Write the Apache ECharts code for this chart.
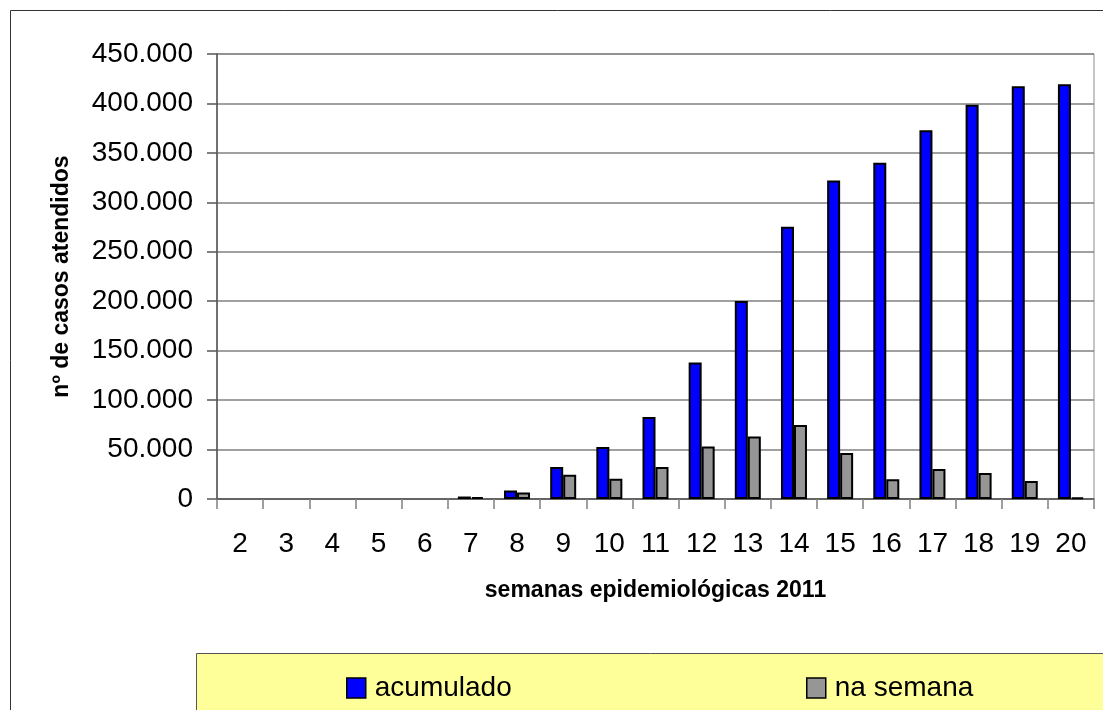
<!DOCTYPE html>
<html>
<head>
<meta charset="utf-8">
<script src="https://cdn.jsdelivr.net/npm/echarts@6/dist/echarts.min.js"></script>
<style>
html,body{margin:0;padding:0;background:#fff;}
#chart{width:1103px;height:710px;}
</style>
</head>
<body>
<div id="chart"></div>
<script>
var categories = ['2','3','4','5','6','7','8','9','10','11','12','13','14','15','16','17','18','19','20'];
var acumulado = [0,0,0,0,0,2500,8500,32400,52600,83000,138000,200300,275200,322200,340000,372800,398700,417300,419300];
var naSemana = [0,0,0,0,0,2000,6500,24500,20400,32400,53000,63100,74900,46500,20000,30400,26300,18200,1500];
var yTicks = { min: 0, max: 450000, interval: 50000 };
var seriesNames = ['acumulado', 'na semana'];
var xTitle = 'semanas epidemiológicas 2011';
var yTitle = 'nº de casos atendidos';

function fmt(v){
  var s = String(Math.round(v));
  return s.replace(/\B(?=(\d{3})+(?!\d))/g, '.');
}
// zero values are drawn as empty (no visible bar), as in the reference
function toBars(arr){ return arr.map(function(v){ return v === 0 ? '-' : v; }); }

var FONT = "'Liberation Sans', Arial, sans-serif";
var chart = echarts.init(document.getElementById('chart'), null, {renderer:'canvas'});
chart.setOption({
  animation: false,
  backgroundColor: '#ffffff',
  textStyle: { fontFamily: FONT },
  graphic: [
    { type: 'rect', z: -10, shape: { x: 10.5, y: 10.5, width: 1200, height: 800 },
      style: { fill: '#ffffff', stroke: '#333333', lineWidth: 1 } },
    { type: 'rect', z: -5, shape: { x: 196.5, y: 653.5, width: 1000, height: 100 },
      style: { fill: '#FFFF99', stroke: '#555555', lineWidth: 1 } }
  ],
  grid: {
    left: 217, top: 54, right: 9, bottom: 211,
    containLabel: false, outerBoundsMode: 'none',
    show: true, borderColor: '#8c8c8c', borderWidth: 1, backgroundColor: 'transparent'
  },
  legend: [
    { data: [seriesNames[0]], left: 341, top: 669, icon: 'rect', itemWidth: 19, itemHeight: 20, itemGap: 0,
      textStyle: { fontFamily: FONT, fontSize: 28, color: '#000', padding: [0,0,0,4] },
      itemStyle: { borderColor: '#000', borderWidth: 1.5 } },
    { data: [seriesNames[1]], left: 801, top: 669, icon: 'rect', itemWidth: 19, itemHeight: 20, itemGap: 0,
      textStyle: { fontFamily: FONT, fontSize: 28, color: '#000', padding: [0,0,0,4] },
      itemStyle: { borderColor: '#000', borderWidth: 1.5 } }
  ],
  xAxis: {
    type: 'category',
    data: categories,
    name: xTitle,
    nameLocation: 'middle',
    nameGap: 80,
    nameTextStyle: { fontFamily: FONT, fontSize: 23, fontWeight: 'bold', color: '#000' },
    axisLine: { show: true, lineStyle: { color: '#555555', width: 1.5 } },
    axisTick: { show: true, inside: false, length: 10, alignWithLabel: false, lineStyle: { color: '#808080', width: 1.5 } },
    axisLabel: { fontFamily: FONT, fontSize: 28, color: '#000', margin: 31, interval: 0 },
    splitLine: { show: false }
  },
  yAxis: {
    type: 'value',
    min: yTicks.min, max: yTicks.max, interval: yTicks.interval,
    name: yTitle,
    nameLocation: 'middle',
    nameRotate: 90,
    nameGap: 144,
    nameTextStyle: { fontFamily: FONT, fontSize: 23, fontWeight: 'bold', color: '#000' },
    axisLine: { show: true, lineStyle: { color: '#555555', width: 1.5 } },
    axisTick: { show: true, inside: false, length: 10, lineStyle: { color: '#555555', width: 1.5 } },
    axisLabel: { fontFamily: FONT, fontSize: 28, color: '#000', margin: 24, formatter: fmt },
    splitLine: { show: true, lineStyle: { color: '#808080', width: 1.5 } }
  },
  series: [
    { name: seriesNames[0], type: 'bar', data: toBars(acumulado), barWidth: 13, barGap: '0%',
      itemStyle: { color: '#0000FF', borderColor: '#000', borderWidth: 2 } },
    { name: seriesNames[1], type: 'bar', data: toBars(naSemana), barWidth: 13, barGap: '0%',
      itemStyle: { color: '#969696', borderColor: '#000', borderWidth: 2 } }
  ]
});
</script>
</body>
</html>
